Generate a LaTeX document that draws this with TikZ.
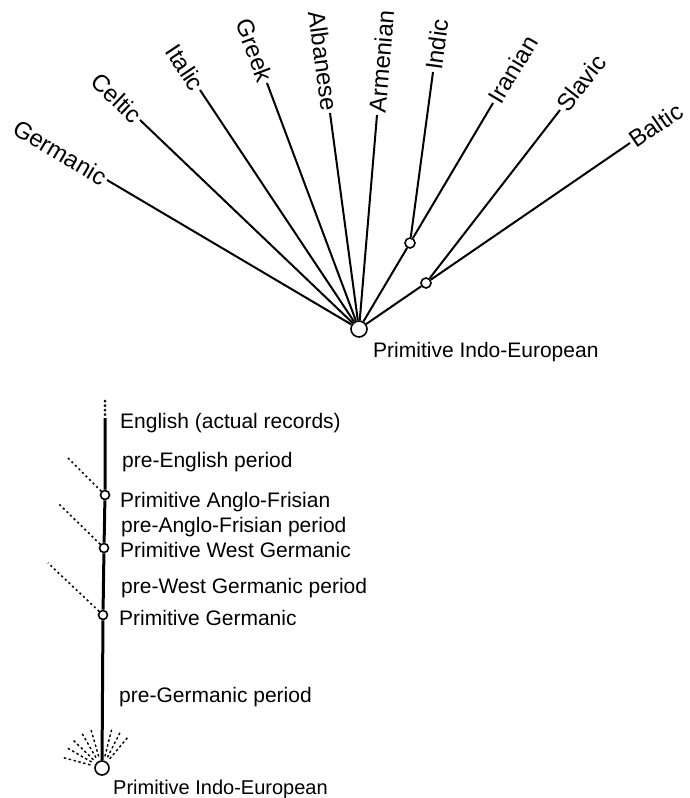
\documentclass[tikz,border=0pt]{standalone}
\usepackage{fontspec}
\setmainfont{Liberation Sans}
\usetikzlibrary{calc}
\tikzset{
    branch/.style={line width=2pt},
    hub/.style={circle, draw, line width=1.6pt, fill=white, inner sep=0pt},
    langname/.style={inner sep=2pt, font=\fontsize{24}{26}\selectfont},
    stage/.style={anchor=base west, inner sep=0pt, font=\fontsize{21}{24}\selectfont},
    stem/.style={line width=3pt},
    offshoot/.style={line width=1.6pt, dash pattern=on 2pt off 3pt},
    fanray/.style={line width=1.4pt, dash pattern=on 2.5pt off 2.5pt}
}
\newcommand{\fanRay}[2]{%
    \draw[fanray] (#1.center) ++(#2:12pt) -- ++(#2:28pt);
}

\begin{document}
\begin{tikzpicture}[x=1pt, y=-1pt]
    \useasboundingbox (0,0) rectangle (690,798);

    % --- TOP: the family fan ---
    \node[hub, minimum size=16pt] (pieTop) at (359,329) {};
    \node[hub, minimum size=10pt] (indoIran) at (410,243) {};
    \node[hub, minimum size=10pt] (baltoSlav) at (426,283) {};

    \node[langname, anchor=east, rotate=-30.6] (germanic) at (107,180) {Germanic};
    \node[langname, anchor=east, rotate=-43.7] (celtic) at (140,120) {Celtic};
    \node[langname, anchor=east, rotate=-56.4] (italic) at (200,90) {Italic};
    \node[langname, anchor=east, rotate=-69.5] (greek) at (267,83) {Greek};
    \node[langname, anchor=east, rotate=-82.4] (albanese) at (330,113) {Albanese};
    \node[langname, anchor=west, rotate=85.2] (armenian) at (377,115) {Armenian};
    \node[langname, anchor=west, rotate=82.3] (indic) at (433,72) {Indic};
    \node[langname, anchor=west, rotate=59.3] (iranian) at (493,103) {Iranian};
    \node[langname, anchor=west, rotate=52.2] (slavic) at (560,110) {Slavic};
    \node[langname, anchor=west, rotate=34.6] (baltic) at (630,143) {Baltic};

    \draw[branch] (pieTop) -- (germanic.east);
    \draw[branch] (pieTop) -- (celtic.east);
    \draw[branch] (pieTop) -- (italic.east);
    \draw[branch] (pieTop) -- (greek.east);
    \draw[branch] (pieTop) -- (albanese.east);
    \draw[branch] (pieTop) -- (armenian.west);
    \draw[branch] (pieTop) -- (indoIran);
    \draw[branch] (indoIran) -- (indic.west);
    \draw[branch] (indoIran) -- (iranian.west);
    \draw[branch] (pieTop) -- (baltoSlav);
    \draw[branch] (baltoSlav) -- (slavic.west);
    \draw[branch] (baltoSlav) -- (baltic.west);

    \node[stage] (pieTopName) at (373,357) {Primitive Indo-European};

    % --- BOTTOM: the line down to English ---
    \coordinate (dotsTop) at (105,401);
    \coordinate (recTop) at (105,418);
    \node[hub, minimum size=9pt] (angloFris) at (105,495) {};
    \node[hub, minimum size=9pt] (westGerm) at (104,548) {};
    \node[hub, minimum size=9pt] (primGerm) at (103,615) {};
    \node[hub, minimum size=14pt] (pieLow) at (102,768) {};

    \draw[line width=3pt, line cap=round, dash pattern=on 0pt off 4.5pt] (dotsTop) -- (recTop);
    \draw[stem] (recTop) -- (angloFris) -- (westGerm) -- (primGerm) -- (pieLow);

    \coordinate (afOut) at (67,457);
    \coordinate (wgOut) at (58,503);
    \coordinate (pgOut) at (48,563);
    \draw[offshoot] (angloFris) -- (afOut);
    \draw[offshoot] (westGerm) -- (wgOut);
    \draw[offshoot] (primGerm) -- (pgOut);

    \fanRay{pieLow}{50}
    \fanRay{pieLow}{63}
    \fanRay{pieLow}{76}
    \fanRay{pieLow}{106}
    \fanRay{pieLow}{120}
    \fanRay{pieLow}{136}
    \fanRay{pieLow}{150}
    \fanRay{pieLow}{165}

    \node[stage] (english) at (120,428) {English (actual records)};
    \node[stage] (preEnglish) at (122,467) {pre-English period};
    \node[stage] (afName) at (120,507) {Primitive Anglo-Frisian};
    \node[stage] (preAF) at (121,532) {pre-Anglo-Frisian period};
    \node[stage] (wgName) at (120,557) {Primitive West Germanic};
    \node[stage] (preWG) at (121,593) {pre-West Germanic period};
    \node[stage] (pgName) at (119,625) {Primitive Germanic};
    \node[stage] (preGerm) at (119,702) {pre-Germanic period};
    \node[stage, font=\fontsize{20}{22}\selectfont] (pieLowName) at (113,794) {Primitive Indo-European};

\end{tikzpicture}
\end{document}
